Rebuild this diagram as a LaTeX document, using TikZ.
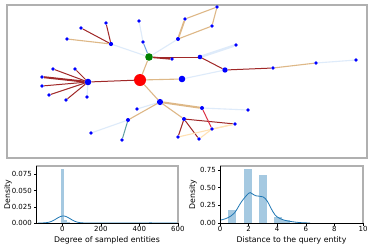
\documentclass[tikz,border=0pt]{standalone}
\usepackage{fontspec}
\setmainfont{DejaVu Sans}
\usetikzlibrary{backgrounds}
\definecolor{dred}{RGB}{160,40,40}
\definecolor{tanc}{RGB}{222,184,135}
\definecolor{lblue}{RGB}{222,235,250}
\definecolor{mblue}{RGB}{110,160,225}
\definecolor{teal2}{RGB}{95,158,160}
\definecolor{crim}{RGB}{220,50,70}
\definecolor{peach}{RGB}{255,225,180}
\definecolor{sbblue}{RGB}{31,119,180}
\definecolor{barblue}{RGB}{165,201,225}
\definecolor{framec}{RGB}{176,176,176}
\begin{document}
\begin{tikzpicture}[x=1pt,y=-1pt,
  vb/.style={circle, fill=blue, inner sep=0pt, minimum size=#1},
  vb/.default=3.6pt,
  ered/.style={draw=dred, line width=1pt},
  etan/.style={draw=tanc, line width=1.1pt},
  elb/.style={draw=lblue, line width=1.1pt},
  emb/.style={draw=mblue, line width=1pt},
  etl/.style={draw=teal2, line width=1pt},
  ecr/.style={draw=crim, line width=1pt},
  epc/.style={draw=peach, line width=1.1pt},
  tick/.style={font=\fontsize{7}{8}\selectfont},
  alab/.style={font=\fontsize{7.8}{9}\selectfont},
  spineA/.style={draw=black, line width=0.6pt},
  spineB/.style={draw=framec, line width=1.4pt},
  tk/.style={draw=black, line width=0.6pt},
  bar/.style={fill=barblue, draw=none},
  kde/.style={draw=sbblue, line width=0.8pt}
]
\useasboundingbox (0,0) rectangle (371,247);

% ---------------- graph nodes ----------------
\node[circle, fill=red, inner sep=0pt, minimum size=12pt] (R) at (140,80) {};
\node[circle, fill={rgb,255:red,0;green,128;blue,0}, inner sep=0pt, minimum size=7.6pt] (G) at (149,57) {};
\node[vb=6.6pt] (H1) at (88,82) {};
\node[vb=6.6pt] (H2) at (182,79) {};
\node[vb=6.2pt] (H3) at (160,102) {};
\node[vb=5.4pt] (H4) at (225,70) {};
\node[vb=4.6pt] (H5) at (200,57) {};
\node[vb=4.2pt] (H6) at (111,44) {};
\node[vb=4pt] (H7) at (178,39) {};
\node[vb=4pt] (H8) at (202,108) {};
\node[vb=4pt] (H9) at (184,119) {};
\node[vb=4pt] (H10) at (128,120) {};
\node[vb] (a1) at (42,77) {};
\node[vb] (a2) at (42,86) {};
\node[vb] (a3) at (53,69) {};
\node[vb] (a4) at (75,69) {};
\node[vb] (a5) at (49,95) {};
\node[vb] (a6) at (66,100) {};
\node[vb] (a7) at (87,97) {};
\node[vb] (b1) at (81,28) {};
\node[vb] (b2) at (106,23) {};
\node[vb] (b3) at (67,39) {};
\node[vb] (c1) at (139,21) {};
\node[vb] (c2) at (143,42) {};
\node[vb] (d1) at (172,59) {};
\node[vb] (e1) at (185,19) {};
\node[vb] (e2) at (217,7) {};
\node[vb] (e3) at (212,26) {};
\node[vb] (f1) at (236,45) {};
\node[vb] (g1) at (273,68) {};
\node[vb] (g2) at (316,63) {};
\node[vb] (g3) at (356,60) {};
\node[vb] (h1) at (248,110) {};
\node[vb] (i1) at (137,109) {};
\node[vb] (i2) at (91,133) {};
\node[vb] (i3) at (122,140) {};
\node[vb] (j1) at (235,124) {};
\node[vb] (j2) at (212,129) {};
\node[vb] (j3) at (178,137) {};
\node[vb] (j4) at (199,139) {};

\begin{scope}[on background layer]
\fill[white] (0,0) rectangle (371,247);
\draw[draw=framec, line width=1.4pt] (7,5) rectangle (367,158);
% edges
\draw[ered] (R) -- (H1);
\draw[etan] (R) -- (G);
\draw[etan] (R) -- (H2);
\draw[etan] (R) -- (H3);
\draw[ered, line width=2pt] (H1) -- (a1);
\draw[ered] (H1) -- (a2);
\draw[ered] (H1) -- (a3);
\draw[ered] (H1) -- (a4);
\draw[ered] (H1) -- (a5);
\draw[ered] (H1) -- (a6);
\draw[elb] (H1) -- (a7);
\draw[elb] (G) -- (H6);
\draw[ered] (H6) -- (b1);
\draw[ered] (H6) -- (b2);
\draw[etan] (H6) -- (b3);
\draw[emb] (G) -- (c2);
\draw[elb] (c2) -- (c1);
\draw[ered, line width=1.6pt] (G) -- (d1);
\draw[ered] (G) -- (H5);
\draw[elb] (G) -- (H7);
\draw[etan, line width=1.8pt] (H7) -- (e1);
\draw[etan] (H7) -- (e3);
\draw[etan] (e1) -- (e2);
\draw[etan] (e2) -- (e3);
\draw[elb, line width=2.4pt] (H5) -- (f1);
\draw[ered] (H5) -- (H4);
\draw[elb] (H2) -- (H4);
\draw[ered] (H4) -- (g1);
\draw[etan] (g1) -- (g2);
\draw[elb] (g2) -- (g3);
\draw[etan, line width=2pt] (H3) -- (H8);
\draw[elb] (H8) -- (h1);
\draw[elb] (H3) -- (i1);
\draw[etan] (H3) -- (H10);
\draw[etl] (H10) -- (i3);
\draw[elb] (H10) -- (i2);
\draw[etan] (H3) -- (H9);
\draw[ered] (H9) -- (j1);
\draw[ered] (H9) -- (j3);
\draw[ered] (H9) -- (j4);
\draw[ecr] (H8) -- (j2);
\draw[epc] (j2) -- (j1);
\draw[epc] (j2) -- (j4);
\draw[epc] (j3) -- (j1);
\end{scope}

% ---------------- left plot ----------------
\begin{scope}[shift={(62.3,223)}, xscale=0.1925, yscale=-648]
\fill[barblue] (-7,0) rectangle (9,0.084);
\fill[barblue] (9,0) rectangle (25,0.0045);
\fill[barblue] (25,0) rectangle (41,0.002);
\fill[barblue] (452,0) rectangle (466,0.0012);
\draw[kde] plot[domain=-125:125, samples=80, smooth] (\x, {0.0108*exp(-((\x-5)/36)^2/2)}) -- (600,0);
\end{scope}
\draw[spineB] (36,166) -- (178,166) -- (178,223);
\draw[spineA] (36,166) -- (36,223) -- (178,223);
\foreach \v/\t in {223/0.000, 206.8/0.025, 190.6/0.050, 174.4/0.075}{
  \draw[tk] (36,\v) -- (33.5,\v);
  \node[tick, anchor=east, inner sep=1pt] (ly\t) at (33,\v) {\t};
}
\foreach \u/\t in {62.3/0, 100.8/200, 139.3/400, 177.8/600}{
  \draw[tk] (\u,223) -- (\u,225.5);
  \node[tick, anchor=north, inner sep=1pt] (lx\t) at (\u,225.5) {\t};
}
\node[alab, rotate=90] (lylab) at (8,194.5) {Density};
\node[alab] (lxlab) at (107,240.5) {Degree of sampled entities};

% ---------------- right plot ----------------
\begin{scope}[shift={(220,223)}, xscale=14.3, yscale=-70.7]
\fill[barblue] (0.58,0) rectangle (1.12,0.18);
\fill[barblue] (1.68,0) rectangle (2.22,0.77);
\fill[barblue] (2.72,0) rectangle (3.26,0.675);
\fill[barblue] (3.8,0) rectangle (4.35,0.09);
\fill[barblue] (4.35,0) rectangle (4.9,0.04);
\draw[kde] plot[smooth, tension=0.6] coordinates {(0,0.04) (0.5,0.07) (1,0.14) (1.5,0.3) (2,0.42) (2.2,0.42) (2.5,0.385) (3,0.37) (3.3,0.31) (3.7,0.16) (4,0.085) (4.5,0.04) (5,0.02) (5.6,0.006) (6.3,0)};
\end{scope}
\draw[spineB] (220,166) -- (363,166) -- (363,223);
\draw[spineA] (220,166) -- (220,223) -- (363,223);
\foreach \v/\t in {223/0.00, 205.3/0.25, 187.7/0.50, 170/0.75}{
  \draw[tk] (220,\v) -- (217.5,\v);
  \node[tick, anchor=east, inner sep=1pt] (ry\t) at (217,\v) {\t};
}
\foreach \u/\t in {220/0, 248.6/2, 277.2/4, 305.8/6, 334.4/8, 363/10}{
  \draw[tk] (\u,223) -- (\u,225.5);
  \node[tick, anchor=north, inner sep=1pt] (rx\t) at (\u,225.5) {\t};
}
\node[alab, rotate=90] (rylab) at (193,194.5) {Density};
\node[alab] (rxlab) at (291.5,240.5) {Distance to the query entity};
\end{tikzpicture}
\end{document}
